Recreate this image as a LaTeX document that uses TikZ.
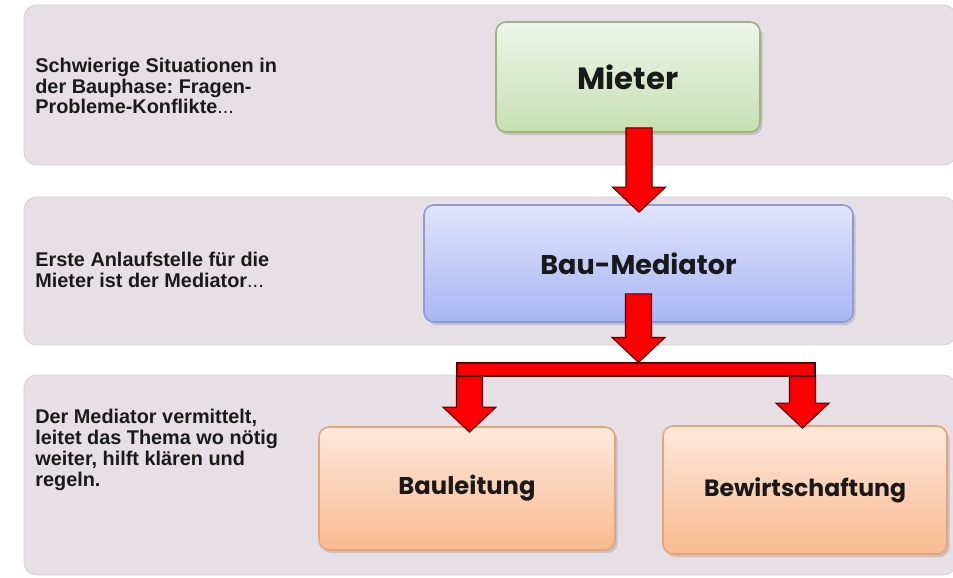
\documentclass[tikz,border=0pt]{standalone}
\usepackage{fontspec}
\setmainfont{Liberation Sans}
\newfontfamily\boxfont{Poppins}
\usepackage{tikz}
\usetikzlibrary{calc, shadows}

\definecolor{bandFill}{RGB}{231, 223, 230}
\definecolor{bandEdge}{RGB}{214, 206, 213}
\definecolor{greenTop}{RGB}{238, 245, 233}
\definecolor{greenBottom}{RGB}{198, 224, 178}
\definecolor{greenEdge}{RGB}{160, 178, 130}
\definecolor{blueTop}{RGB}{225, 228, 251}
\definecolor{blueBottom}{RGB}{168, 182, 244}
\definecolor{blueEdge}{RGB}{140, 154, 214}
\definecolor{orangeTop}{RGB}{253, 232, 220}
\definecolor{orangeBottom}{RGB}{249, 186, 144}
\definecolor{orangeEdge}{RGB}{226, 165, 124}
\definecolor{arrowRed}{RGB}{250, 0, 0}
\definecolor{arrowEdge}{RGB}{80, 0, 0}
\definecolor{noteInk}{RGB}{26, 26, 26}

\newcommand{\shaftHalf}{0.26cm}
\newcommand{\headHalf}{0.53cm}
\newcommand{\headLen}{0.5cm}
\newcommand{\boxSize}[1]{\fontsize{#1}{#1}\selectfont}

\begin{document}
\begin{tikzpicture}[
    band/.style={draw=bandEdge, fill=bandFill, rounded corners=0.25cm, minimum width=18.64cm, inner sep=0pt},
    stepBox/.style={rounded corners=0.2cm, line width=0.9pt, inner sep=0pt, text=black!90,
      font=\boxfont\bfseries,
      drop shadow={shadow xshift=0.05cm, shadow yshift=-0.06cm, opacity=0.3}},
    boxGreen/.style={stepBox, draw=greenEdge, top color=greenTop, bottom color=greenBottom},
    boxBlue/.style={stepBox, draw=blueEdge, top color=blueTop, bottom color=blueBottom},
    boxOrange/.style={stepBox, draw=orangeEdge, top color=orangeTop, bottom color=orangeBottom},
    note/.style={anchor=west, align=left, inner sep=0pt, text=noteInk,
      font=\bfseries\fontsize{11.3}{11.8}\selectfont\frenchspacing},
    blockArrow/.style={draw=arrowEdge, fill=arrowRed, line width=0.6pt,
      to path={
        let \p1=(\tikztostart), \p2=(\tikztotarget) in
        (\x2-\shaftHalf,\y1) -- (\x2-\shaftHalf,\y2+\headLen) -- (\x2-\headHalf,\y2+\headLen)
        -- (\x2,\y2) -- (\x2+\headHalf,\y2+\headLen) -- (\x2+\shaftHalf,\y2+\headLen)
        -- (\x2+\shaftHalf,\y1) -- cycle
      }},
  ]
    \useasboundingbox (0,0) rectangle (19.06,11.54);

    % Bands
    \node[band, minimum height=3.2cm] (bandTop) at (9.8,9.84) {};
    \node[band, minimum height=2.96cm] (bandMid) at (9.8,6.12) {};
    \node[band, minimum height=4cm] (bandLow) at (9.8,2.04) {};

    % Notes
    \node[note] (noteTop) at (0.7,9.82)
      {Schwierige Situationen in\\der Bauphase: Fragen-\\Probleme-Konflikte{\mdseries...}};
    \node[note] (noteMid) at (0.7,6.14)
      {Erste Anlaufstelle für die\\Mieter ist der Mediator{\mdseries...}};
    \node[note] (noteLow) at (0.7,2.54)
      {Der Mediator vermittelt,\\leitet das Thema wo nötig\\weiter, hilft klären und\\regeln.};

    % Boxes
    \node[boxGreen, minimum width=5.28cm, minimum height=2.2cm] (mieter) at (12.56,10.0)
      {\boxSize{17.5}Mieter};
    \node[boxBlue, minimum width=8.58cm, minimum height=2.34cm] (mediator) at (12.77,6.27)
      {\boxSize{15.4}Bau-Mediator};
    \node[boxOrange, minimum width=5.92cm, minimum height=2.46cm] (bauleitung) at (9.34,1.77)
      {\boxSize{13.8}Bauleitung};
    \node[boxOrange, minimum width=5.68cm, minimum height=2.56cm] (bewirtschaftung) at (16.1,1.74)
      {\boxSize{13.4}Bewirtschaftung};

    % Split bar
    \node[draw=arrowEdge, fill=arrowRed, line width=0.6pt, inner sep=0pt,
          minimum width=7.16cm, minimum height=0.26cm] (split) at (12.72,4.15) {};

    % Arrows
    \draw[blockArrow] ($(mieter.south)+(0,0.1)$) to ($(mediator.north)+(0.01,-0.16)$);
    \draw[blockArrow] ($(mediator.south)+(0,0.58)$) to (mediator.south |- split.north);
    \draw[blockArrow] (split.south) to ($(bauleitung.north)+(0.05,-0.12)$);
    \draw[blockArrow] (split.south) to ($(bewirtschaftung.north)+(-0.05,-0.06)$);
  \end{tikzpicture}
\end{document}
